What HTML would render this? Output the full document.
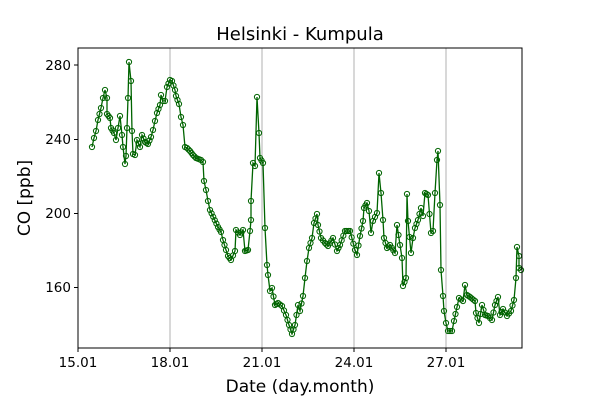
<!DOCTYPE html>
<html><head><meta charset="utf-8"><style>
body{margin:0;background:#fff}
svg{display:block;font-family:"DejaVu Sans","Liberation Sans",sans-serif}
</style></head><body>
<svg id="s" width="600" height="400" viewBox="0 0 600 400">
<rect width="600" height="400" fill="#fff"/>
<g stroke="#b0b0b0" stroke-width="1">
<line x1="170" y1="48" x2="170" y2="348"/>
<line x1="262" y1="48" x2="262" y2="348"/>
<line x1="354" y1="48" x2="354" y2="348"/>
<line x1="446" y1="48" x2="446" y2="348"/>
</g>
<g id="d"></g>
<rect x="78" y="48" width="444" height="300" fill="none" stroke="#000" stroke-width="1"/>
<g stroke="#000" stroke-width="1">
<line x1="78" y1="348" x2="78" y2="352"/><line x1="170" y1="348" x2="170" y2="352"/>
<line x1="262" y1="348" x2="262" y2="352"/><line x1="354" y1="348" x2="354" y2="352"/>
<line x1="446" y1="348" x2="446" y2="352"/>
<line x1="74" y1="65" x2="78" y2="65"/><line x1="74" y1="139.5" x2="78" y2="139.5"/>
<line x1="74" y1="213.5" x2="78" y2="213.5"/><line x1="74" y1="287.5" x2="78" y2="287.5"/>
</g>
<g font-size="13.5" fill="#000" text-anchor="middle">
<text x="78" y="367">15.01</text><text x="170" y="367">18.01</text><text x="262" y="367">21.01</text>
<text x="354" y="367">24.01</text><text x="446" y="367">27.01</text>
</g>
<g font-size="13.5" fill="#000" text-anchor="end">
<text x="71" y="70">280</text><text x="71" y="144">240</text><text x="71" y="218">200</text><text x="71" y="292">160</text>
</g>
<text x="300" y="40" font-size="18" text-anchor="middle">Helsinki - Kumpula</text>
<text x="300" y="392" font-size="17" text-anchor="middle">Date (day.month)</text>
<text transform="translate(30,198) rotate(-90)" font-size="17" text-anchor="middle">CO [ppb]</text>
</svg>
<script>
var p=[[92,147],[94,138],[96,131],[98,120],[101,108],[103,98],[105,90],[107,98],[107,114],[110,118],[111,128],[114,133],[116,140],[118,128],[120,116],[122,135],[123,147],[125,164],[126,156],[127,128],[128,98],[129,62],[131,81],[132,131],[133,154],[135,155],[137,140],[140,147],[142,135],[145,142],[148,144],[151,137],[153,130],[155,121],[157,113],[160,105],[161,95],[163,101],[165,101],[167,87],[170,80],[172,81],[175,90],[176,96],[179,104],[181,117],[183,125],[185,147],[187,148],[190,151],[193,155],[196,158],[201,160],[203,162],[204,181],[206,190],[208,201],[210,210],[218,227],[221,232],[223,240],[226,250],[228,256],[231,260],[235,251],[236,230],[240,235],[243,230],[245,251],[248,250],[250,231],[251,220],[251,201],[253,163],[255,166],[257,97],[259,133],[260,158],[263,163],[265,228],[267,265],[268,275],[270,291],[272,288],[275,305],[278,303],[282,306],[286,315],[289,325],[292,334],[295,325],[298,305],[300,311],[303,296],[305,278],[307,261],[309,248],[312,238],[314,223],[317,214],[318,225],[321,238],[325,243],[328,246],[333,238],[337,251],[340,245],[345,231],[350,231],[355,250],[357,255],[360,236],[363,221],[364,208],[367,203],[369,211],[371,233],[373,221],[377,213],[379,173],[381,193],[383,220],[384,238],[387,248],[390,245],[395,253],[397,225],[400,245],[402,258],[403,286],[406,278],[407,194],[408,221],[411,253],[413,238],[415,228],[418,220],[421,208],[423,216],[425,193],[428,195],[431,233],[433,231],[435,193],[437,160],[438,151],[440,205],[441,270],[443,296],[444,311],[446,323],[448,331],[452,331],[454,321],[457,307],[459,298],[463,301],[465,285],[467,295],[470,297],[475,301],[476,313],[479,323],[482,305],[485,315],[488,316],[492,320],[495,305],[498,297],[500,315],[503,309],[507,316],[511,311],[514,300],[516,278],[517,247],[519,256],[519,268],[521,270]];
var ns="http://www.w3.org/2000/svg",g=document.getElementById("d");
var q=[];for(var i=0;i<p.length;i++){q.push(p[i]);if(i<p.length-1){var a=p[i],b=p[i+1];var dx=b[0]-a[0];var n=Math.floor(dx/1.5);for(var k=1;k<n;k++){var t=k/n;q.push([a[0]+dx*t,a[1]+(b[1]-a[1])*t]);}}}
var pl=document.createElementNS(ns,"polyline");
pl.setAttribute("points",q.map(function(v){return v.join(",")}).join(" "));
pl.setAttribute("fill","none");pl.setAttribute("stroke","#006400");pl.setAttribute("stroke-width","1.3");g.appendChild(pl);
q.forEach(function(v){var c=document.createElementNS(ns,"circle");c.setAttribute("cx",v[0]);c.setAttribute("cy",v[1]);c.setAttribute("r","2.6");c.setAttribute("fill","none");c.setAttribute("stroke","#006400");c.setAttribute("stroke-width","1");g.appendChild(c);});
</script>
</body></html>
